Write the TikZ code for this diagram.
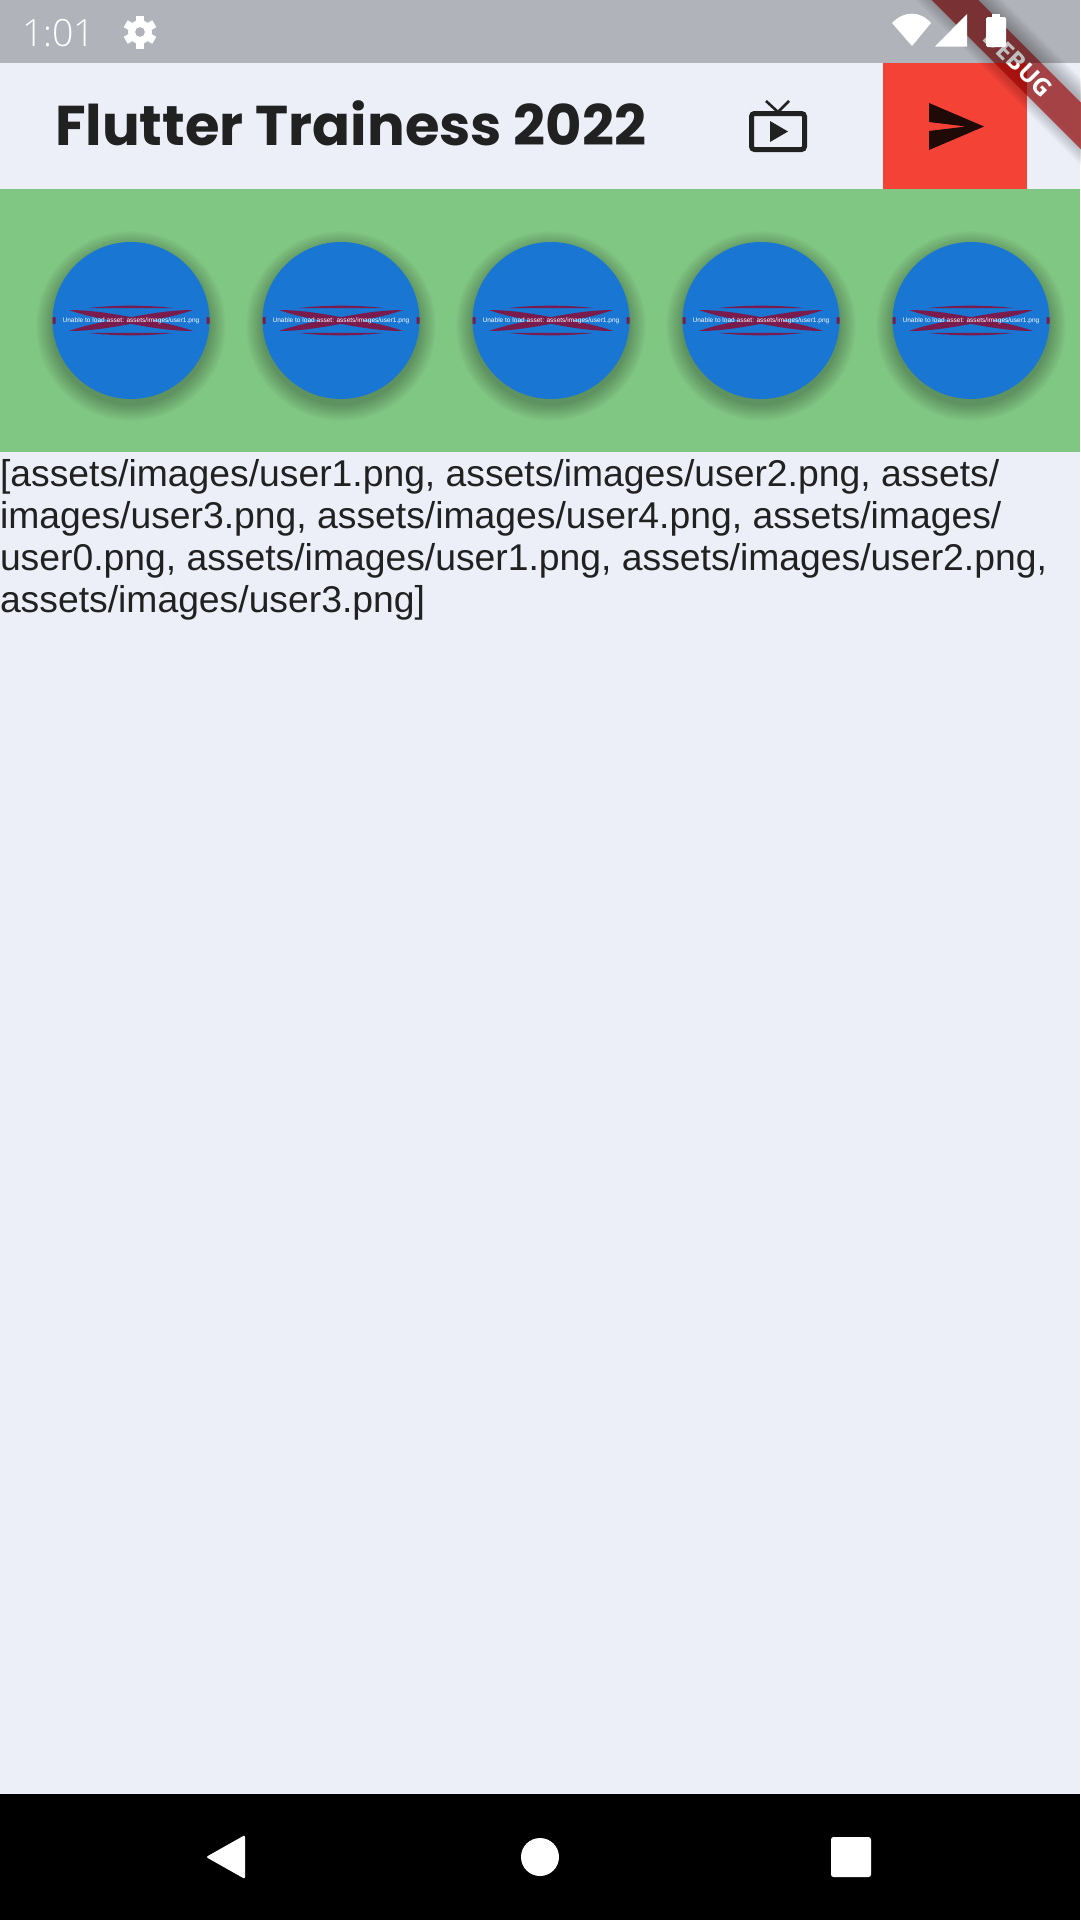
\documentclass[tikz,border=0pt]{standalone}
\usepackage{fontspec}
\setmainfont{Liberation Sans}
\newfontfamily\titlefont{Poppins}
\newfontfamily\clockfont{Open Sans Light}
\newfontfamily\bannerfont{Open Sans}
\usepackage{xcolor}
\usetikzlibrary{positioning}
\definecolor{pagefill}{HTML}{ECEFF8}
\definecolor{rowfill}{HTML}{81C784}
\definecolor{avatarfill}{HTML}{1976D2}
\definecolor{btnfill}{HTML}{F44336}
\definecolor{inkdark}{HTML}{212121}
\definecolor{senddark}{HTML}{200A08}
\definecolor{errmark}{HTML}{7A1B4E}
\definecolor{bannerred}{HTML}{A00000}
\tikzset{
  plain/.style={inner sep=0pt, outer sep=0pt},
  titletxt/.style={plain, anchor=base west, text=inkdark, font=\titlefont\bfseries\fontsize{56}{56}\selectfont},
  bodytxt/.style={plain, anchor=north west, align=left, text=inkdark, font=\fontsize{37.3}{42}\selectfont},
  clocktxt/.style={plain, anchor=base west, text=white, font=\clockfont\fontsize{37.5}{37.5}\selectfont},
  avatar/.style={circle, plain, fill=avatarfill, minimum size=157pt},
  errtxt/.style={plain, text=white, font=\fontsize{6.55}{8}\selectfont},
  bannertxt/.style={plain, text=white, rotate=-45, font=\bannerfont\bfseries\fontsize{24.5}{24.5}\selectfont},
  errfill/.style={fill=errmark},
}
\begin{document}
\begin{tikzpicture}[x=1pt, y=-1pt]
  \useasboundingbox (0,0) rectangle (1080,1920);
  \fill[pagefill] (0,0) rectangle (1080,1920);

  % app bar
  \node[titletxt] (title) at (55,145) {Flutter Trainess 2022};
  \draw[inkdark, line width=5pt, rounded corners=3pt] (751.5,113.5) rectangle (804.5,149.5);
  \draw[inkdark, line width=2.6pt] (766,101) -- (778,112) -- (789,101);
  \fill[inkdark] (770,121) -- (788,131.5) -- (770,142) -- cycle;
  \fill[btnfill] (883,63) rectangle (1027,189);
  \fill[senddark] (929,103) -- (984,126.5) -- (929,150) -- (929,131) -- (966,126.5) -- (929,122) -- cycle;

  % row of avatars
  \fill[rowfill] (0,189) rectangle (1080,452);
  \foreach \cx [count=\i] in {131,341,551,761,971} {
    \foreach \r in {79,80,...,95}
      \fill[black, opacity=0.014] (\cx,326) circle (\r);
    \node[avatar] (c\i) at (\cx,320.5) {};
    \begin{scope}[shift={(c\i)}]
      \fill[errfill] (-62,-10.5) .. controls (-40,-10.5) and (-20,-7) .. (0,-3.4) .. controls (20,-7) and (40,-10.5) .. (62,-10.5)
        .. controls (45,-4.5) and (32,-2.5) .. (20,0) .. controls (32,2.5) and (45,4.5) .. (62,10.5)
        .. controls (40,10.5) and (20,7) .. (0,3.4) .. controls (-20,7) and (-40,10.5) .. (-62,10.5)
        .. controls (-45,4.5) and (-32,2.5) .. (-20,0) .. controls (-32,-2.5) and (-45,-4.5) .. (-62,-10.5) -- cycle;
      \fill[errfill] (-42,-12.5) .. controls (-15,-15.6) and (15,-15.6) .. (42,-12.5) .. controls (15,-12.4) and (-15,-12.4) .. (-42,-12.5) -- cycle;
      \fill[errfill] (-42,12.5) .. controls (-15,15.6) and (15,15.6) .. (42,12.5) .. controls (15,12.4) and (-15,12.4) .. (-42,12.5) -- cycle;
      \fill[errfill] (-78.5,-3) -- (-75.5,-3.5) -- (-75.5,3.5) -- (-78.5,3) -- cycle;
      \fill[errfill] (78.5,-3) -- (75.5,-3.5) -- (75.5,3.5) -- (78.5,3) -- cycle;
    \end{scope}
    \node[errtxt] (e\i) at (c\i) {Unable to load asset: assets/images/user1.png};
  }

  \node[bodytxt] (paths) at (0,459) {[assets/images/user1.png, assets/images/user2.png, assets/\\
images/user3.png, assets/images/user4.png, assets/images/\\
user0.png, assets/images/user1.png, assets/images/user2.png,\\
assets/images/user3.png]};

  % corner banner
  \coordinate (banA) at (930,-25);
  \coordinate (banB) at (1105,150);
  \foreach \w in {61,57,...,33}
    \draw[black, opacity=0.035, line width=\w pt] ([shift={(2,-2)}]banA) -- ([shift={(2,-2)}]banB);
  \draw[bannerred, opacity=0.62, line width=33pt] (banA) -- (banB);
  \node[bannertxt] (debug) at (1018,63) {DEBUG};

  % status bar
  \fill[black, opacity=0.25] (0,0) rectangle (1080,63);
  \node[clocktxt] (clock) at (22,46) {1:01};
  \begin{scope}[shift={(140,32)}]
    \foreach \a in {0,60,...,300}
      \fill[white, rotate=\a] (-4,-16.5) rectangle (4,-8);
    \fill[white, even odd rule] (0,0) circle (12) (0,0) circle (5);
  \end{scope}
  \fill[white] (892,23) .. controls (904,10.5) and (920,10.5) .. (931,23) -- (912,46) -- cycle;
  \fill[white] (935,46.5) -- (967,14) -- (967,46.5) -- cycle;
  \fill[white, rounded corners=1.5pt] (986,17) rectangle (1006,47);
  \fill[white] (992,14) rectangle (1000,18);

  % navigation bar
  \fill[black] (0,1794) rectangle (1080,1920);
  \fill[white, rounded corners=2pt] (206,1857) -- (245,1835) -- (245,1879) -- cycle;
  \node[circle, plain, fill=white, minimum size=38pt] (home) at (540,1857) {};
  \fill[white, rounded corners=2.5pt] (831,1837) rectangle (871,1877);
\end{tikzpicture}
\end{document}
